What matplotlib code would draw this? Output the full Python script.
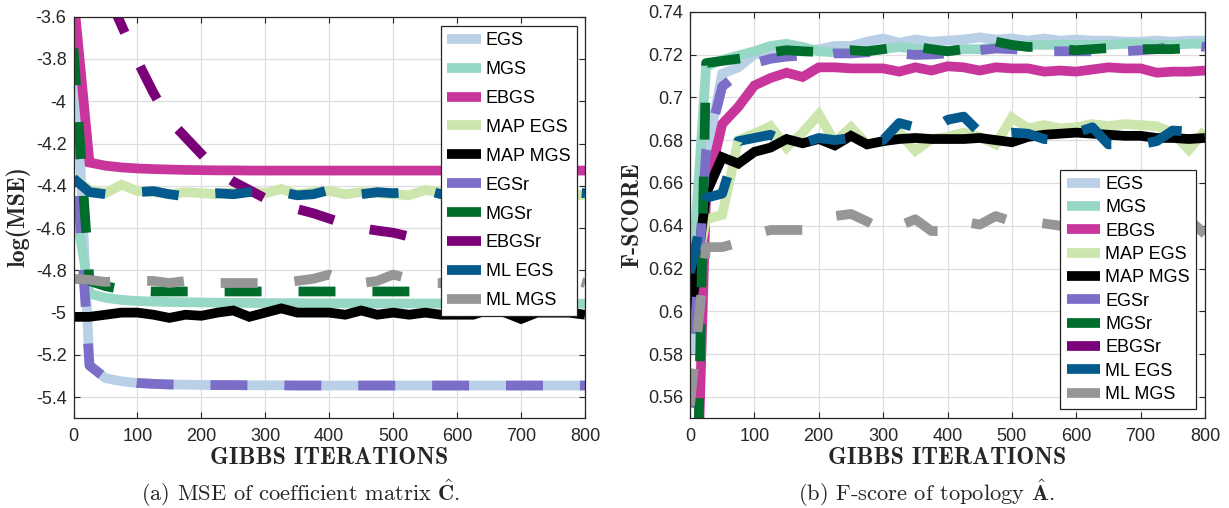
import numpy as np
import matplotlib
matplotlib.use("Agg")
import matplotlib.pyplot as plt
from matplotlib.ticker import FuncFormatter

# ---------------- data ----------------
ITER = [0, 25, 50, 75, 100, 125, 150, 175, 200, 225, 250, 275, 300, 325, 350, 375,
        400, 425, 450, 475, 500, 525, 550, 575, 600, 625, 650, 675, 700, 725, 750, 775, 800]

LABELS = ["EGS", "MGS", "EBGS", "MAP EGS", "MAP MGS", "EGSr", "MGSr", "EBGSr", "ML EGS", "ML MGS"]
COLORS = ["#bad0e6", "#97d7c5", "#c8359b", "#cde6ad", "#000000",
          "#7a6ec8", "#006d2c", "#7a0177", "#045a8d", "#969696"]
DASHED = [False, False, False, False, False, True, True, True, True, True]

# (a) log(MSE)
MSE_EGS = [-3.58, -5.25, -5.31, -5.325, -5.333, -5.337, -5.34, -5.341, -5.342, -5.343, -5.343,
           -5.344, -5.344, -5.344] + [-5.345] * 19
MSE_MGS = [-4.45, -4.91, -4.93, -4.94, -4.945, -4.948, -4.95, -4.951, -4.952, -4.953, -4.954,
           -4.954, -4.955, -4.955, -4.955, -4.956, -4.956, -4.956, -4.956] + [-4.957] * 7 + [-4.958] * 7
MSE_EBGS = [-3.5, -4.29, -4.305, -4.313, -4.318, -4.321, -4.323, -4.325, -4.326, -4.327,
            -4.327] + [-4.328] * 22
MSE_MAP_EGS = [-4.36, -4.42, -4.435, -4.395, -4.425, -4.43, -4.44, -4.43, -4.435, -4.44,
               -4.43, -4.425, -4.435, -4.415, -4.44, -4.43, -4.425, -4.44, -4.43, -4.435,
               -4.44, -4.445, -4.42, -4.43, -4.44, -4.43, -4.425, -4.44, -4.435, -4.43,
               -4.41, -4.44, -4.445]
MSE_MAP_MGS = [-5.02, -5.02, -5.01, -5.0, -5.0, -5.01, -5.025, -5.01, -5.015, -5.0,
               -4.99, -5.02, -5.0, -4.98, -5.0, -5.0, -5.0, -5.01, -4.99, -5.01,
               -5.0, -5.01, -5.0, -5.01, -5.01, -5.01, -4.985, -5.0, -5.03, -5.0,
               -5.0, -5.0, -5.01]
MSE_EGSr = [-4.10, -5.25, -5.31, -5.325, -5.333, -5.337, -5.34, -5.341, -5.342, -5.343, -5.343,
            -5.344, -5.344, -5.344] + [-5.345] * 19
MSE_MGSr = [-3.75, -4.85, -4.875, -4.89, -4.897, -4.9] + [-4.9] * 27
MSE_EBGSr = [-3.0, -3.25, -3.47, -3.64, -3.81, -3.96, -4.09, -4.17, -4.25, -4.33,
             -4.38, -4.42, -4.46, -4.49, -4.51, -4.53, -4.555, -4.58, -4.60, -4.612,
             -4.622, -4.64, -4.66, -4.675, -4.69, -4.70, -4.71, -4.715, -4.72, -4.73,
             -4.74, -4.75, -4.765]
MSE_ML_EGS = [-4.365, -4.43, -4.44, -4.435, -4.43, -4.425, -4.44, -4.45, -4.44, -4.435,
              -4.44, -4.43, -4.43, -4.43, -4.445, -4.44, -4.42, -4.43, -4.44, -4.43,
              -4.435, -4.43, -4.42, -4.44, -4.43, -4.435, -4.43, -4.44, -4.43, -4.43,
              -4.44, -4.43, -4.435]
MSE_ML_MGS = [-4.84, -4.845, -4.855, -4.85, -4.85, -4.85, -4.86, -4.85, -4.86, -4.86,
              -4.86, -4.86, -4.86, -4.86, -4.85, -4.84, -4.82, -4.85, -4.86, -4.85,
              -4.82, -4.84, -4.86, -4.86, -4.86, -4.85, -4.83, -4.84, -4.86, -4.85,
              -4.82, -4.84, -4.86]

# (b) F-score
F_EGS = [0.58, 0.672, 0.711, 0.714, 0.72, 0.7215, 0.722, 0.7215, 0.7225, 0.724,
         0.724, 0.726, 0.7275, 0.7255, 0.727, 0.726, 0.7265, 0.727, 0.728, 0.727,
         0.7275, 0.7265, 0.7275, 0.7265, 0.727, 0.7265, 0.7265, 0.726, 0.726, 0.7265,
         0.726, 0.7265, 0.7265]
F_MGS = [0.60, 0.7145, 0.7175, 0.7195, 0.7215, 0.724, 0.725, 0.7235, 0.7215, 0.721,
         0.7205, 0.7215, 0.7225, 0.7235, 0.7225, 0.7225, 0.7215, 0.7225, 0.7225, 0.7235,
         0.7235, 0.7245, 0.7245, 0.7245, 0.7245, 0.7245, 0.7245, 0.725, 0.725, 0.7245,
         0.7245, 0.725, 0.725]
F_EBGS = [0.40, 0.655, 0.6875, 0.6955, 0.7055, 0.709, 0.7115, 0.7095, 0.714, 0.714,
          0.7135, 0.7135, 0.7135, 0.712, 0.714, 0.7125, 0.7145, 0.714, 0.7125, 0.714,
          0.7135, 0.7135, 0.712, 0.7125, 0.712, 0.713, 0.714, 0.7135, 0.7135, 0.7115,
          0.712, 0.712, 0.7125]
F_MAP_EGS = [0.605, 0.643, 0.645, 0.68, 0.683, 0.6865, 0.6765, 0.6835, 0.692, 0.679,
             0.686, 0.678, 0.6795, 0.6835, 0.675, 0.6805, 0.6815, 0.6835, 0.6815, 0.678,
             0.6905, 0.6855, 0.687, 0.6855, 0.686, 0.6875, 0.6865, 0.6875, 0.687, 0.6865,
             0.6835, 0.6755, 0.6845]
F_MAP_MGS = [0.595, 0.655, 0.672, 0.669, 0.6745, 0.6765, 0.6805, 0.6785, 0.6805, 0.6775,
             0.682, 0.678, 0.6795, 0.6805, 0.681, 0.6805, 0.6805, 0.6805, 0.681, 0.680,
             0.679, 0.6815, 0.6825, 0.683, 0.6835, 0.683, 0.6825, 0.682, 0.682, 0.681,
             0.681, 0.6805, 0.681]
F_EGSr = [0.555, 0.675, 0.705, 0.711, 0.716, 0.718, 0.719, 0.7195, 0.719, 0.7205,
          0.7205, 0.721, 0.7215, 0.7205, 0.7198, 0.720, 0.7205, 0.721, 0.722, 0.7228,
          0.7225, 0.722, 0.7215, 0.7215, 0.7215, 0.7215, 0.7215, 0.7215, 0.722, 0.7225,
          0.724, 0.7245, 0.7235]
F_MGSr = [0.35, 0.716, 0.717, 0.718, 0.719, 0.721, 0.722, 0.7215, 0.7212, 0.7215,
          0.722, 0.7215, 0.7225, 0.7235, 0.7237, 0.7225, 0.7215, 0.7225, 0.7245, 0.726,
          0.7245, 0.7235, 0.7237, 0.7225, 0.722, 0.7225, 0.723, 0.7235, 0.7225, 0.7225,
          0.7225, 0.723, 0.722]
F_EBGSr = [0.30, 0.44, 0.47, 0.485, 0.49, 0.495, 0.50, 0.50, 0.505, 0.505,
           0.505, 0.51, 0.505, 0.51, 0.51, 0.505, 0.51, 0.51, 0.51, 0.505,
           0.51, 0.51, 0.51, 0.505, 0.51, 0.51, 0.51, 0.51, 0.505, 0.51,
           0.51, 0.51, 0.51]
F_ML_EGS = [0.618, 0.653, 0.655, 0.6795, 0.681, 0.6825, 0.679, 0.6785, 0.681, 0.680,
            0.681, 0.680, 0.680, 0.688, 0.686, 0.6845, 0.6895, 0.691, 0.6835, 0.683,
            0.6835, 0.683, 0.6805, 0.680, 0.6835, 0.686, 0.678, 0.678, 0.678, 0.6795,
            0.6845, 0.684, 0.683]
F_ML_MGS = [0.556, 0.63, 0.63, 0.632, 0.636, 0.638, 0.638, 0.638, 0.641, 0.6445,
            0.6455, 0.642, 0.638, 0.64, 0.643, 0.6375, 0.6375, 0.642, 0.6405, 0.6445,
            0.642, 0.642, 0.641, 0.64, 0.6405, 0.641, 0.6415, 0.641, 0.640, 0.641,
            0.642, 0.643, 0.636]

MSE_SERIES = [MSE_EGS, MSE_MGS, MSE_EBGS, MSE_MAP_EGS, MSE_MAP_MGS,
              MSE_EGSr, MSE_MGSr, MSE_EBGSr, MSE_ML_EGS, MSE_ML_MGS]
F_SERIES = [F_EGS, F_MGS, F_EBGS, F_MAP_EGS, F_MAP_MGS,
            F_EGSr, F_MGSr, F_EBGSr, F_ML_EGS, F_ML_MGS]
for s in MSE_SERIES + F_SERIES:
    assert len(s) == len(ITER), len(s)

MSE_TICKS = [-5.4, -5.2, -5.0, -4.8, -4.6, -4.4, -4.2, -4.0, -3.8, -3.6]
F_TICKS = [0.56, 0.58, 0.60, 0.62, 0.64, 0.66, 0.68, 0.70, 0.72, 0.74]
X_TICKS = [0, 100, 200, 300, 400, 500, 600, 700, 800]

# ---------------- style ----------------
plt.rcParams["mathtext.fontset"] = "cm"
plt.rcParams["axes.unicode_minus"] = False
TICK_FONT = "Liberation Sans"
AX_COLOR = "#262626"
LW = 7

W, H = 1229, 508
fig = plt.figure(figsize=(W / 100, H / 100), dpi=100)


def px_axes(x0, x1, y0, y1):
    return fig.add_axes([x0 / W, 1 - y1 / H, (x1 - x0) / W, (y1 - y0) / H])


def style_axes(ax, yticks, ylim):
    ax.set_xlim(0, 800)
    ax.set_ylim(*ylim)
    ax.set_xticks(X_TICKS)
    ax.set_yticks(yticks)
    fmt = FuncFormatter(lambda v, p: ("%g" % round(v, 4)))
    ax.yaxis.set_major_formatter(fmt)
    ax.xaxis.set_major_formatter(fmt)
    ax.grid(True, color="#dedede", lw=0.9)
    ax.set_axisbelow(True)
    for sp in ax.spines.values():
        sp.set_color(AX_COLOR)
        sp.set_linewidth(0.9)
    ax.tick_params(direction="in", length=4, width=0.8, colors=AX_COLOR,
                   top=True, right=True, labelsize=13)
    ax.tick_params(axis="x", pad=7)
    ax.tick_params(axis="y", pad=5)
    for lab in ax.get_xticklabels() + ax.get_yticklabels():
        lab.set_fontfamily(TICK_FONT)
        lab.set_color(AX_COLOR)


def draw(ax, series):
    handles = []
    for lab, col, dsh, ys in zip(LABELS, COLORS, DASHED, series):
        ls = (0, (3.8, 3.8)) if dsh else "-"
        h, = ax.plot(ITER, ys, color=col, lw=LW, ls=ls, label=lab,
                     solid_joinstyle="miter", dash_capstyle="butt", solid_capstyle="butt")
        handles.append(h)
    return handles


# (a)
axL = px_axes(73.5, 585, 16.7, 418.3)
hL = draw(axL, MSE_SERIES)
style_axes(axL, MSE_TICKS, (-5.5, -3.6))
legL = axL.legend(handles=hL, loc="upper right", bbox_to_anchor=(1 - 8.5 / 511.5, 1 - 9 / 401.6),
                  borderaxespad=0, prop={"family": TICK_FONT, "size": 13},
                  fancybox=False, framealpha=1, edgecolor=AX_COLOR,
                  handlelength=1.85, handletextpad=0.28, labelspacing=0.66, borderpad=0.35)
legL.get_frame().set_linewidth(0.9)

# (b)
axR = px_axes(690, 1205, 11.7, 418.3)
hR = draw(axR, F_SERIES)
style_axes(axR, F_TICKS, (0.55, 0.74))
legR = axR.legend(handles=hR, loc="lower right", bbox_to_anchor=(1 - 9 / 515, 9 / 406.6),
                  borderaxespad=0, prop={"family": TICK_FONT, "size": 13},
                  fancybox=False, framealpha=1, edgecolor=AX_COLOR,
                  handlelength=1.85, handletextpad=0.28, labelspacing=0.35, borderpad=0.35)
legR.get_frame().set_linewidth(0.9)

# labels
LBL = dict(fontfamily="cmb10", fontsize=17.2, color=AX_COLOR, ha="center", va="center")
fig.text(329 / W, 1 - 457.5 / H, "GIBBS ITERATIONS", **LBL)
fig.text(947.5 / W, 1 - 457.5 / H, "GIBBS ITERATIONS", **LBL)
fig.text(18 / W, 1 - 217 / H, "log(MSE)", rotation=90, **LBL)
fig.text(632 / W, 1 - 215 / H, "F-SCORE", rotation=90, **LBL)

CAP = dict(fontfamily="cmr10", fontsize=16.2, color=AX_COLOR, ha="center", va="center")
fig.text(301 / W, 1 - 493 / H, r"(a) MSE of coefficient matrix $\hat{\mathbf{C}}$.", **CAP)
fig.text(926 / W, 1 - 493 / H, r"(b) F-score of topology $\hat{\mathbf{A}}$.", **CAP)

fig.savefig("out.png", dpi=100)
